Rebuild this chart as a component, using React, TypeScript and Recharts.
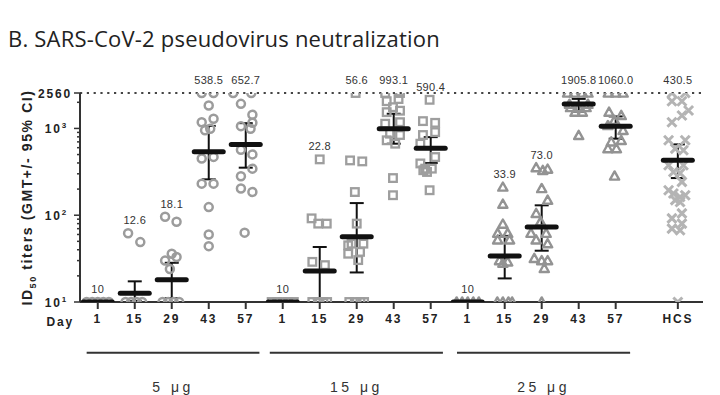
import React from 'react';
import { ScatterChart, Scatter, XAxis, YAxis, ErrorBar, ReferenceLine, Label } from 'recharts';

// x tick labels
const dayTicks = ['1', '15', '29', '43', '57'];
const hcsTick = 'HCS';
const doseGroups = ['5 μg', '15 μg', '25 μg'];

// geometric mean titers per day (1, 15, 29, 43, 57)
const gmt5 = [10, 12.6, 18.1, 538.5, 652.7];
const gmt15 = [10, 22.8, 56.6, 993.1, 590.4];
const gmt25 = [10, 33.9, 73.0, 1905.8, 1060.0];
const gmtHcs = 430.5;

// 95% CI [low, high]
const ci5 = [[10, 10], [10.3, 17.3], [11.1, 28.3], [259, 1070], [353, 1150]];
const ci15 = [[10, 10], [11, 43], [21.9, 138], [667, 1476], [399, 794]];
const ci25 = [[10, 10], [18.7, 57.8], [39, 130], [1566, 2190], [762, 1375]];
const ciHcs = [268, 655];

// individual titers: [jitter, value]
const pts5 = [
  [[-0.3, 10], [-0.15, 10], [0, 10], [0.15, 10], [0.3, 10]],
  [[-0.18, 62], [0.15, 49], [-0.25, 10], [-0.1, 10], [0.05, 10], [0.2, 10]],
  [[-0.18, 96], [0.13, 84], [-0.18, 30], [0, 36], [0.13, 33], [-0.05, 24], [-0.25, 10], [-0.1, 10], [0.05, 10], [0.2, 10]],
  [[-0.19, 2560], [0.13, 2560], [0, 1840], [-0.19, 1180], [0.13, 1290], [-0.1, 950], [0.04, 990], [-0.19, 450],
    [0.13, 470], [-0.19, 231], [0.13, 231], [0, 124], [0, 60], [0, 44]],
  [[-0.34, 2560], [0.15, 2560], [-0.13, 1920], [0.18, 1436], [-0.13, 1062], [0.18, 1164], [0.13, 993], [-0.13, 569],
    [0.18, 502], [0.18, 344], [-0.13, 281], [-0.13, 203], [0.18, 185], [-0.03, 63]],
];
const pts15 = [
  [[-0.3, 10], [-0.15, 10], [0, 10], [0.15, 10], [0.3, 10]],
  [[0, 440], [-0.22, 92], [-0.04, 80], [0.19, 80], [-0.2, 29], [0.14, 26.6], [-0.2, 10], [-0.05, 10], [0.1, 10], [0.2, 10]],
  [[-0.03, 2560], [-0.18, 428], [0.15, 417], [-0.05, 185], [0, 80], [-0.14, 47], [0.18, 47], [-0.23, 45], [0.09, 37.8],
    [-0.23, 36], [0.04, 30.4], [-0.2, 10], [-0.05, 10], [0.1, 10], [0.2, 10]],
  [[-0.19, 2060], [0.13, 2180], [-0.02, 1757], [-0.19, 1540], [0.17, 1600], [-0.23, 1133], [0.17, 1180], [-0.1, 870],
    [0.17, 840], [-0.19, 730], [0.04, 667], [-0.23, 2560], [0.17, 2560], [-0.02, 268], [-0.02, 170]],
  [[-0.03, 2137], [-0.21, 1214], [0.12, 1160], [0.12, 906], [-0.21, 840], [-0.28, 667], [0.12, 468], [-0.28, 395],
    [-0.15, 344], [0.03, 344], [-0.1, 315], [-0.2, 330], [-0.03, 194]],
];
const pts25 = [
  [[-0.3, 10], [-0.15, 10], [0, 10], [0.15, 10], [0.3, 10]],
  [[-0.05, 211], [-0.05, 134], [-0.05, 79], [-0.19, 62], [0.08, 62], [-0.19, 52], [0.13, 52], [-0.14, 30], [0.08, 29],
    [-0.05, 28], [-0.2, 10], [-0.05, 10], [0.1, 10], [0.2, 10]],
  [[-0.15, 353], [0.03, 329], [0.16, 340], [0, 203], [0.16, 149], [-0.15, 105], [-0.03, 84], [-0.29, 62], [0.12, 62],
    [-0.15, 52], [0.16, 47], [-0.2, 31.8], [0, 30], [0.16, 30], [0.07, 24.4], [0, 10]],
  [[-0.3, 2560], [-0.12, 2560], [0.1, 2560], [0.25, 2560], [-0.22, 1740], [0, 1740], [0.2, 1740], [-0.1, 1540],
    [0.1, 1540], [-0.25, 1900], [0.25, 1900], [0, 830]],
  [[-0.2, 2560], [0, 2560], [0.2, 2560], [-0.18, 1540], [0.15, 1410], [-0.03, 1240], [-0.21, 1080], [0.2, 948],
    [0.15, 728], [-0.12, 700], [-0.21, 585], [0.02, 585], [-0.03, 283]],
];
const ptsHcs = [
  [-0.16, 2560], [0.2, 2560], [-0.16, 2060], [0.11, 2060], [0.29, 1610], [0.11, 1410], [-0.16, 1180], [-0.25, 730],
  [0.2, 730], [-0.07, 585], [0.15, 560], [-0.25, 376], [0.15, 376], [-0.12, 315], [0.06, 305], [0.11, 242],
  [-0.25, 194], [-0.12, 178], [0.06, 162], [0.2, 170], [-0.07, 149], [0.06, 142], [0.11, 105], [-0.16, 92],
  [0.11, 80], [-0.16, 70], [0.06, 67], [0, 10],
];

const HCS_X = 15.68;
const majorTicks = [10, 100, 1000, 2560];
const minorTicks = [20, 30, 40, 50, 60, 70, 80, 90, 200, 300, 400, 500, 600, 700, 800, 900, 2000];

const toPoints = (groups: number[][][], start: number) =>
  groups.flatMap((g, i) => g.map(([dx, v]) => ({ x: start + i + dx, y: v })));

const circleData = toPoints(pts5, 0);
const squareData = toPoints(pts15, 5);
const triData = toPoints(pts25, 10);
const crossData = ptsHcs.map(([dx, v]) => ({ x: HCS_X + dx, y: v }));

const fmt = (v: number) => (v === 10 ? '10' : v.toFixed(1));

const gmtRows = [
  ...[gmt5, gmt15, gmt25].flatMap((g, gi) => {
    const ci = [ci5, ci15, ci25][gi];
    const pts = [pts5, pts15, pts25][gi];
    return g.map((v, i) => ({
      x: gi * 5 + i,
      y: v,
      err: [v - ci[i][0], ci[i][1] - v],
      top: Math.max(...pts[i].map((p) => p[1])),
      text: fmt(v),
    }));
  }),
  {
    x: HCS_X,
    y: gmtHcs,
    err: [gmtHcs - ciHcs[0], ciHcs[1] - gmtHcs],
    top: Math.max(...ptsHcs.map((p) => p[1])),
    text: fmt(gmtHcs),
  },
];
const labelRows = gmtRows.map((r) => ({ x: r.x, y: r.top, text: r.text }));

const tickText = (v: number) => {
  const i = Math.round(v);
  if (Math.abs(v - HCS_X) < 0.01) return hcsTick;
  return dayTicks[i % 5];
};

const axisFont = '"Liberation Sans", Arial, sans-serif';

const Circ = (p: any) => (
  <circle cx={p.cx} cy={p.cy} r={4} fill="none" stroke="#9c9c9c" strokeWidth={2.5} />
);
const Sq = (p: any) => (
  <rect x={p.cx - 3.8} y={p.cy - 3.8} width={7.6} height={7.6} fill="none" stroke="#9e9e9e" strokeWidth={2.3} />
);
const Tri = (p: any) => (
  <path
    d={`M${p.cx},${p.cy - 4.6}L${p.cx + 4.6},${p.cy + 3.6}L${p.cx - 4.6},${p.cy + 3.6}Z`}
    fill="none"
    stroke="#939393"
    strokeWidth={2.4}
    strokeLinejoin="round"
  />
);
const Cross = (p: any) => (
  <path
    d={`M${p.cx - 4.5},${p.cy - 4.5}L${p.cx + 4.5},${p.cy + 4.5}M${p.cx + 4.5},${p.cy - 4.5}L${p.cx - 4.5},${p.cy + 4.5}`}
    stroke="#b4b4b4"
    strokeWidth={3}
  />
);
const GmtBar = (p: any) => (
  <rect x={p.cx - 17} y={p.cy - 2.5} width={34} height={5} rx={2.5} fill="#111" />
);
const GmtText = (p: any) => (
  <text x={p.cx} y={p.cy - 9} textAnchor="middle" fontSize={11} fill="#333" fontFamily={axisFont} letterSpacing={0.3}>
    {p.payload.text}
  </text>
);

const YTick = (p: any) => {
  const v = p.payload.value;
  const major = majorTicks.includes(v);
  return (
    <g>
      <line x1={p.x} x2={p.x - (major ? 6 : 3)} y1={p.y} y2={p.y} stroke="#333" strokeWidth={1.5} />
      {major && v === 2560 && (
        <text x={p.x - 8} y={p.y + 4.5} textAnchor="end" fontSize={12} fontWeight="bold" fill="#222"
          fontFamily={axisFont} letterSpacing={1.8}>
          2560
        </text>
      )}
      {major && v !== 2560 && (
        <text x={p.x - 12} y={p.y + 4.5} textAnchor="end" fontSize={12} fontWeight="bold" fill="#222"
          fontFamily={axisFont} letterSpacing={1.8}>
          10<tspan dy={-5} fontSize={8}>{Math.round(Math.log10(v))}</tspan>
        </text>
      )}
    </g>
  );
};

const XTick = (p: any) => (
  <text x={p.x} y={p.y} dy={11} textAnchor="middle" fontSize={12} fontWeight="bold" fill="#222"
    fontFamily={axisFont} letterSpacing={1.8}>
    {tickText(p.payload.value)}
  </text>
);

const YTitle = (p: any) => {
  const vb = p.viewBox;
  return (
    <text transform={`translate(${vb.x + 32},${vb.y + vb.height / 2}) rotate(-90)`} textAnchor="middle"
      fontSize={14} fontWeight="bold" fill="#222" fontFamily={axisFont} letterSpacing={1.6}>
      ID<tspan fontSize={9} dy={4}>50</tspan>
      <tspan dy={-4}> titers (GMT+/- 95% CI)</tspan>
    </text>
  );
};

const DayLabel = (p: any) => {
  const vb = p.viewBox;
  return (
    <text x={vb.x - 6} y={vb.y + 24} textAnchor="end" fontSize={12} fontWeight="bold" fill="#222"
      fontFamily={axisFont} letterSpacing={1.8}>
      Day
    </text>
  );
};

const GroupLabel = (p: any) => {
  const vb = p.viewBox;
  return (
    <text x={vb.x + vb.width / 2} y={vb.y + 39} textAnchor="middle" fontSize={14} fill="#333"
      fontFamily={axisFont} letterSpacing={3.5}>
      {p.text}
    </text>
  );
};

const groupSpans = [[-0.3, 4.37], [4.65, 9.33], [9.71, 14.39]];
const GROUP_LINE_Y = 2.6;

export default function App() {
  return (
    <div style={{ position: 'absolute', left: 0, top: 0, width: 720, height: 395, background: '#fff' }}>
      <div
        style={{
          position: 'absolute', left: 8, top: 27, fontSize: 22, lineHeight: '22px', letterSpacing: 0.2,
          fontFamily: '"Open Sans", sans-serif', color: '#222', whiteSpace: 'nowrap',
        }}
      >
        B. SARS-CoV-2 pseudovirus neutralization
      </div>
      <div style={{ position: 'absolute', left: 0, top: 0 }}>
        <ScatterChart width={720} height={395} margin={{ top: 93, right: 17, bottom: 0, left: 0 }}>
          <XAxis
            type="number"
            dataKey="x"
            domain={[-0.48, 16.36]}
            ticks={[0, 1, 2, 3, 4, 5, 6, 7, 8, 9, 10, 11, 12, 13, 14, HCS_X]}
            interval={0}
            height={93}
            tick={<XTick />}
            tickSize={7}
            tickMargin={3}
            tickLine={{ stroke: '#333', strokeWidth: 2 }}
            axisLine={{ stroke: '#333', strokeWidth: 2 }}
          >
            <Label content={<DayLabel />} />
          </XAxis>
          <YAxis
            type="number"
            dataKey="y"
            scale="log"
            domain={[10, 2560]}
            allowDataOverflow
            ticks={[...majorTicks, ...minorTicks].sort((a, b) => a - b)}
            interval={0}
            width={80}
            tick={<YTick />}
            tickLine={false}
            tickSize={0}
            tickMargin={0}
            axisLine={{ stroke: '#333', strokeWidth: 2 }}
          >
            <Label content={<YTitle />} />
          </YAxis>
          <YAxis yAxisId="lab" type="number" dataKey="y" scale="log" domain={[10, 2560]} hide />
          <ReferenceLine y={2560} stroke="#444" strokeWidth={2.2} strokeDasharray="2.2 4.6" />
          {groupSpans.map(([a, b], i) => (
            <ReferenceLine
              key={i}
              segment={[{ x: a, y: GROUP_LINE_Y }, { x: b, y: GROUP_LINE_Y }]}
              ifOverflow="visible"
              stroke="#333"
              strokeWidth={2}
              label={<GroupLabel text={doseGroups[i]} />}
            />
          ))}
          <Scatter data={circleData} shape={<Circ />} isAnimationActive={false} />
          <Scatter data={squareData} shape={<Sq />} isAnimationActive={false} />
          <Scatter data={triData} shape={<Tri />} isAnimationActive={false} />
          <Scatter data={crossData} shape={<Cross />} isAnimationActive={false} />
          <Scatter data={gmtRows} shape={<GmtBar />} isAnimationActive={false}>
            <ErrorBar dataKey="err" direction="y" width={7} stroke="#111" strokeWidth={2} />
          </Scatter>
          <Scatter yAxisId="lab" data={labelRows} shape={<GmtText />} isAnimationActive={false} />
        </ScatterChart>
      </div>
    </div>
  );
}
